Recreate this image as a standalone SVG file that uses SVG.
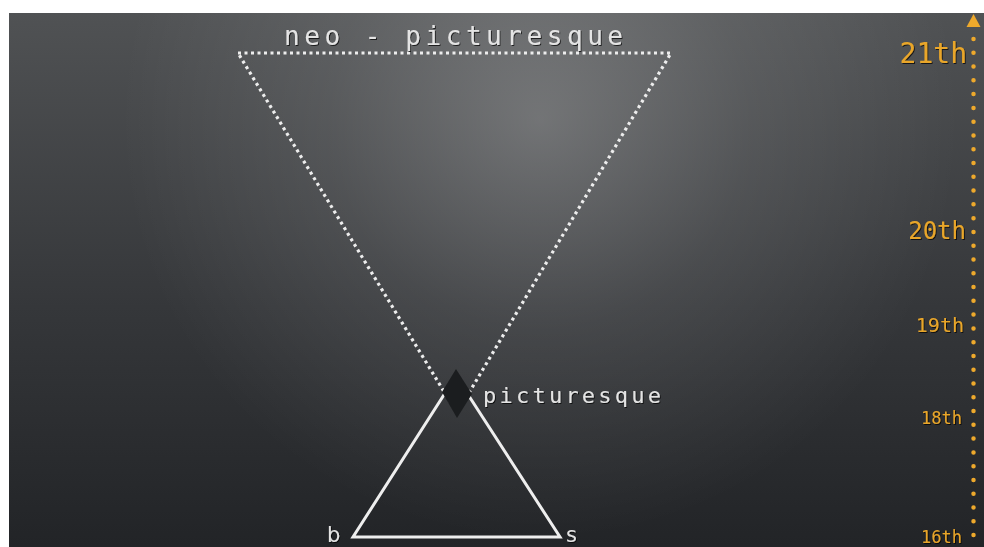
<svg xmlns="http://www.w3.org/2000/svg" width="984" height="547" viewBox="0 0 984 547">
  <defs>
    <linearGradient id="bgLin" x1="0" y1="0" x2="0" y2="1">
      <stop offset="0" stop-color="#505254"/>
      <stop offset="0.55" stop-color="#35373a"/>
      <stop offset="1" stop-color="#222427"/>
    </linearGradient>
    <radialGradient id="bgRad" gradientUnits="userSpaceOnUse" cx="540" cy="120" r="420">
      <stop offset="0" stop-color="#ffffff" stop-opacity="0.24"/>
      <stop offset="0.5" stop-color="#ffffff" stop-opacity="0.09"/>
      <stop offset="1" stop-color="#ffffff" stop-opacity="0"/>
    </radialGradient>
    <filter id="shadow" x="-10%" y="-20%" width="120%" height="140%">
      <feDropShadow dx="1" dy="1" stdDeviation="0.6" flood-color="#000" flood-opacity="0.7"/>
    </filter>
  </defs>
  <style>
    .lbl { font-family: "DejaVu Sans Mono", "Liberation Mono", monospace; fill: #e4e4e4; }
    .vtx { font-family: "DejaVu Sans", "Liberation Sans", sans-serif; fill: #e4e4e4; font-size: 21px; }
    .era { font-family: "DejaVu Sans Mono", "Liberation Mono", monospace; fill: #e9a62a; text-anchor: end; }
    .dotted { fill: none; stroke: #ededed; stroke-width: 3.2; stroke-dasharray: 3 3.5; }
    .solid { fill: none; stroke: #eeeeee; stroke-width: 3; stroke-linejoin: miter; }
    .timeline { fill: none; stroke: #eea92c; stroke-width: 4.5; stroke-linecap: round; stroke-dasharray: 0 13.78; }
  </style>

  <rect x="0" y="0" width="984" height="547" fill="#ffffff"/>
  <rect x="9" y="13" width="975" height="534" fill="url(#bgLin)"/>
  <rect x="9" y="13" width="975" height="534" fill="url(#bgRad)"/>

  <g id="connectors">
    <path id="neo-triangle" class="dotted" d="M238 53 L671 53 L457 413 Z"/>
    <path id="base-triangle" class="solid" d="M456 376 L560 537 L353 537 Z"/>
    <path id="timeline" class="timeline" d="M973.5 39 L973.5 547"/>
    <polygon id="timeline-arrow" points="973.5,14 980.5,27 966.5,27" fill="#eea92c"/>
  </g>

  <g id="node-neo-picturesque">
    <text class="lbl" x="284" y="45" font-size="26" textLength="339" lengthAdjust="spacing" filter="url(#shadow)">neo - picturesque</text>
  </g>

  <g id="node-picturesque">
    <polygon points="456,369 442,392 457,418 472,394" fill="#1b1d1f"/>
    <text class="lbl" x="483" y="403" font-size="22" textLength="178" lengthAdjust="spacing" filter="url(#shadow)">picturesque</text>
  </g>

  <g id="node-b">
    <text class="vtx" x="327" y="542" filter="url(#shadow)">b</text>
  </g>
  <g id="node-s">
    <text class="vtx" x="566" y="542" filter="url(#shadow)">s</text>
  </g>

  <g id="era-21th"><text class="era" x="967" y="63" font-size="28" filter="url(#shadow)">21th</text></g>
  <g id="era-20th"><text class="era" x="966" y="239" font-size="24" filter="url(#shadow)">20th</text></g>
  <g id="era-19th"><text class="era" x="964" y="332" font-size="20" filter="url(#shadow)">19th</text></g>
  <g id="era-18th"><text class="era" x="962" y="424" font-size="17" filter="url(#shadow)">18th</text></g>
  <g id="era-16th"><text class="era" x="962" y="543" font-size="17" filter="url(#shadow)">16th</text></g>
</svg>
